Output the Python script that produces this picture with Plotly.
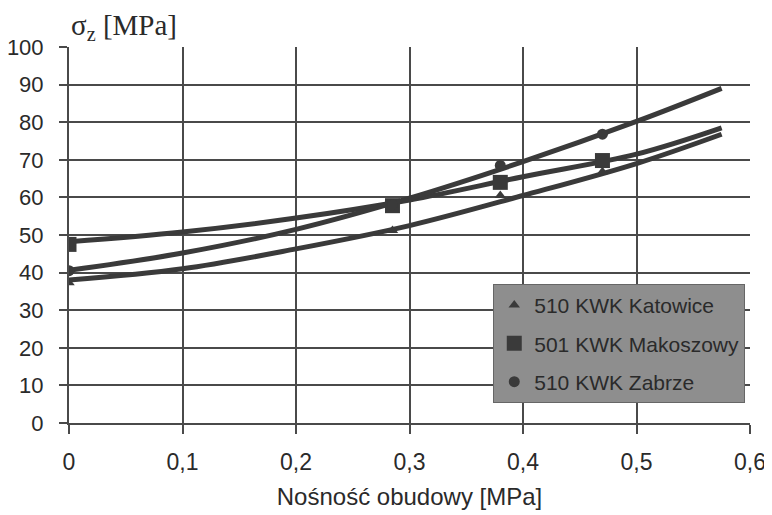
import plotly.graph_objects as go

x_points = [0.0, 0.285, 0.38, 0.47]
katowice = [37.3, 51.2, 60.5, 66.8]
makoszowy = [47.5, 57.8, 64.0, 69.8]
zabrze = [40.5, 58.0, 68.5, 76.8]

# Trend lines
x_trend = [0.0, 0.1, 0.2, 0.3, 0.4, 0.5, 0.575]
katowice_trend = [38.0, 41.0, 46.3, 52.5, 60.5, 69.0, 76.8]
makoszowy_trend = [48.2, 50.8, 54.5, 59.3, 65.5, 71.5, 78.5]
zabrze_trend = [40.6, 45.2, 51.5, 59.8, 69.5, 80.2, 89.0]

names = ["510 KWK Katowice", "501 KWK Makoszowy", "510 KWK Zabrze"]
x_ticks = [0, 0.1, 0.2, 0.3, 0.4, 0.5, 0.6]
x_ticktext = ["0", "0,1", "0,2", "0,3", "0,4", "0,5", "0,6"]
y_ticks = list(range(0, 101, 10))

ink = "#3a3a3a"
grid = "#4a4a4a"
fig = go.Figure()

for tr in [katowice_trend, makoszowy_trend, zabrze_trend]:
    fig.add_trace(go.Scatter(x=x_trend, y=tr, mode="lines", line=dict(color=ink, width=5, shape="spline"),
                             showlegend=False, hoverinfo="skip"))

symbols = ["triangle-up", "square", "circle"]
sizes = [10, 15, 11]
for i, (vals, sym, sz) in enumerate(zip([katowice, makoszowy, zabrze], symbols, sizes)):
    fig.add_trace(go.Scatter(x=x_points, y=vals, mode="markers", name=names[i],
                             marker=dict(symbol=sym, size=sz, color=ink),
                             legendgroup=str(i)))

# page body adds a small offset; figure sized to fit the 772x515 window
fig.update_layout(
    width=764, height=507,
    margin=dict(l=61, r=22, t=39, b=92),
    paper_bgcolor="white", plot_bgcolor="white",
    font=dict(family="Liberation Sans, Arial", size=23, color="#2a2a2a"),
    showlegend=True,
    legend=dict(x=0.623, y=0.37, xanchor="left", yanchor="top",
                bgcolor="#8e8e8e", bordercolor="#666", borderwidth=1,
                font=dict(family="Liberation Sans, Arial", size=21, color="#2a2a2a"),
                tracegroupgap=8, itemwidth=30),
    xaxis=dict(range=[0, 0.6], tickvals=x_ticks, ticktext=x_ticktext, automargin=False,
               showgrid=True, gridcolor=grid, gridwidth=2,
               showline=True, linecolor=grid, linewidth=2,
               ticks="outside", ticklen=9, tickcolor=grid, tickwidth=1.5,
               ticklabelstandoff=8, zeroline=False,
               title=dict(text="Nośność obudowy [MPa]", font=dict(size=24), standoff=15)),
    yaxis=dict(range=[0, 100], tickvals=y_ticks, automargin=False,
               tickfont=dict(size=22),
               showgrid=True, gridcolor=grid, gridwidth=2,
               showline=True, linecolor=grid, linewidth=2,
               ticks="outside", ticklen=8, tickcolor=grid, tickwidth=1.5,
               ticklabelstandoff=11, zeroline=False),
    annotations=[dict(text="σ<sub>z</sub> [MPa]", xref="paper", yref="paper", x=0.0, y=1.0,
                      xanchor="left", yanchor="bottom", showarrow=False,
                      font=dict(family="Liberation Serif, Times New Roman", size=29, color="#2a2a2a"))],
)

fig.write_html("out.html")
